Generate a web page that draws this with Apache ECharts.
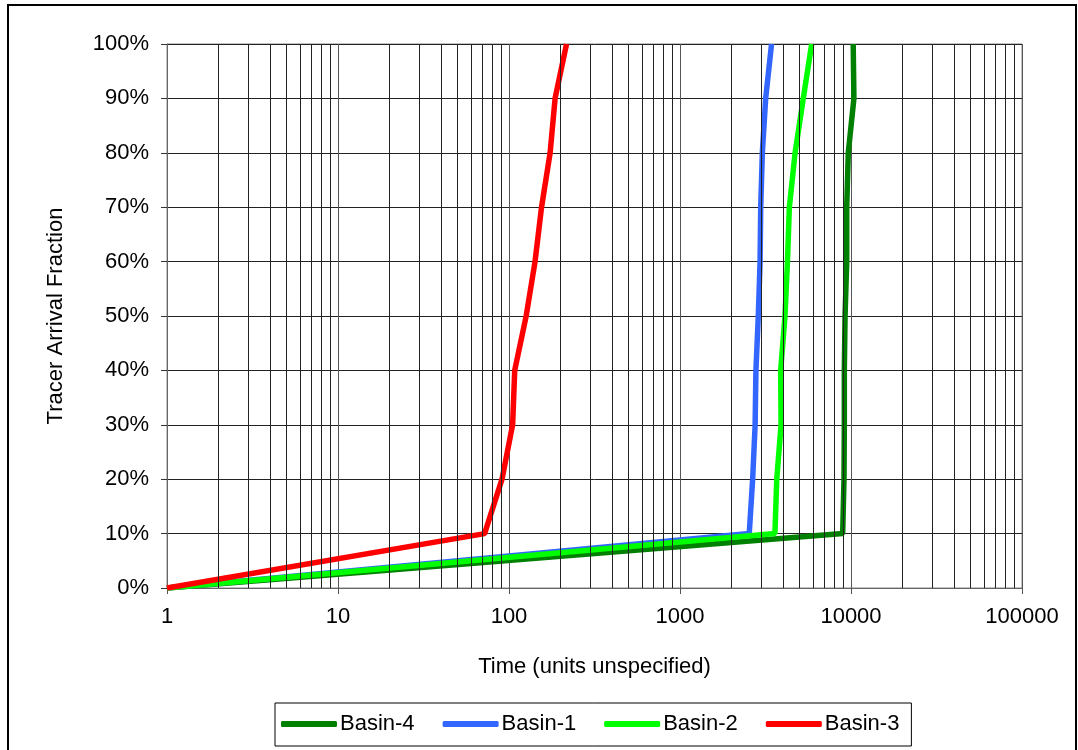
<!DOCTYPE html>
<html>
<head>
<meta charset="utf-8">
<script src="https://cdn.jsdelivr.net/npm/echarts@6/dist/echarts.min.js"></script>
<style>
  html, body { margin: 0; padding: 0; background: #fff; }
  #chart { width: 1078px; height: 750px; }
</style>
</head>
<body>
<div id="chart"></div>
<script>
// tracer arrival fraction (y) vs time (x, log)
var fractions = [0, 0.1, 0.2, 0.3, 0.4, 0.5, 0.6, 0.7, 0.8, 0.9, 1.0];
var basin4 = [1, 8940, 9100, 9140, 9140, 9230, 9440, 9440, 9640, 10400, 10300];
var basin1 = [1, 2540, 2660, 2750, 2780, 2870, 2940, 2965, 3030, 3170, 3430];
var basin2 = [1, 3590, 3680, 3900, 3880, 4110, 4250, 4360, 4710, 5260, 5890];
var basin3 = [1, 72, 91, 105, 108, 126, 142, 155, 174, 186, 217];
var minorTicks = [2, 3, 4, 5, 6, 7, 8, 9, 20, 30, 40, 50, 60, 70, 80, 90,
  200, 300, 400, 500, 600, 700, 800, 900, 2000, 3000, 4000, 5000, 6000, 7000, 8000, 9000,
  20000, 30000, 40000, 50000, 60000, 70000, 80000, 90000];

function pairs(xs) {
  var out = [];
  for (var i = 0; i < xs.length; i++) {
    out.push([xs[i], fractions[i]]);
  }
  return out;
}

var myChart = echarts.init(document.getElementById('chart'));
var font = 'Arial, "Liberation Sans", sans-serif';

// minor grid lines of the log axis
var minorLines = [];
for (var i = 0; i < minorTicks.length; i++) {
  minorLines.push({ xAxis: minorTicks[i] });
}

function basin(name, color, xs, extra) {
  var s = {
    name: name,
    type: 'line',
    data: pairs(xs),
    symbol: 'none',
    smooth: false,
    lineStyle: { color: color, width: 5.5 },
    itemStyle: { color: color }
  };
  if (extra) s.markLine = extra;
  return s;
}

var option = {
  animation: false,
  textStyle: { fontFamily: font },
  graphic: [{
    type: 'rect',
    shape: { x: 8, y: 5, width: 1068, height: 760 },
    style: { fill: 'none', stroke: '#000', lineWidth: 2 },
    silent: true
  }],
  grid: {
    left: 167, right: 56, top: 44, bottom: 162,
    show: true, borderColor: '#888', borderWidth: 1
  },
  legend: {
    data: ['Basin-4', 'Basin-1', 'Basin-2', 'Basin-3'],
    left: 275, top: 703,
    borderColor: '#000', borderWidth: 1,
    padding: [10, 12, 11, 6],
    itemGap: 28,
    icon: 'roundRect',
    itemWidth: 56, itemHeight: 6,
    textStyle: { color: '#000', fontSize: 22, fontFamily: font, padding: [0, 0, 0, -2] }
  },
  xAxis: {
    type: 'log',
    logBase: 10,
    min: 1, max: 100000,
    name: 'Time (units unspecified)',
    nameLocation: 'middle',
    nameGap: 68,
    nameTextStyle: { color: '#000', fontSize: 22, fontFamily: font },
    axisLine: { lineStyle: { color: '#666', width: 1 } },
    axisTick: { show: true, length: 6, lineStyle: { color: '#555' } },
    axisLabel: {
      color: '#000', fontSize: 22, margin: 18, fontFamily: font,
      formatter: function (v) { return String(v); }
    },
    splitLine: { show: true, lineStyle: { color: '#555', width: 1 } }
  },
  yAxis: {
    type: 'value',
    min: 0, max: 1, interval: 0.1,
    name: 'Tracer Arrival Fraction',
    nameLocation: 'middle',
    nameGap: 100,
    nameTextStyle: { color: '#000', fontSize: 22, fontFamily: font },
    axisLine: { show: true, lineStyle: { color: '#666', width: 1 } },
    axisTick: { show: true, length: 6, lineStyle: { color: '#333' } },
    axisLabel: {
      color: '#000', fontSize: 22, margin: 18, fontFamily: font,
      formatter: function (v) { return Math.round(v * 100) + '%'; }
    },
    splitLine: { show: true, lineStyle: { color: '#222', width: 1 } }
  },
  series: [
    basin('Basin-4', '#008000', basin4, {
      silent: true,
      symbol: 'none',
      label: { show: false },
      lineStyle: { color: '#222', width: 1, type: 'solid' },
      data: minorLines
    }),
    basin('Basin-1', '#3366FF', basin1),
    basin('Basin-2', '#00FF00', basin2),
    basin('Basin-3', '#FF0000', basin3)
  ]
};

myChart.setOption(option);
</script>
</body>
</html>
